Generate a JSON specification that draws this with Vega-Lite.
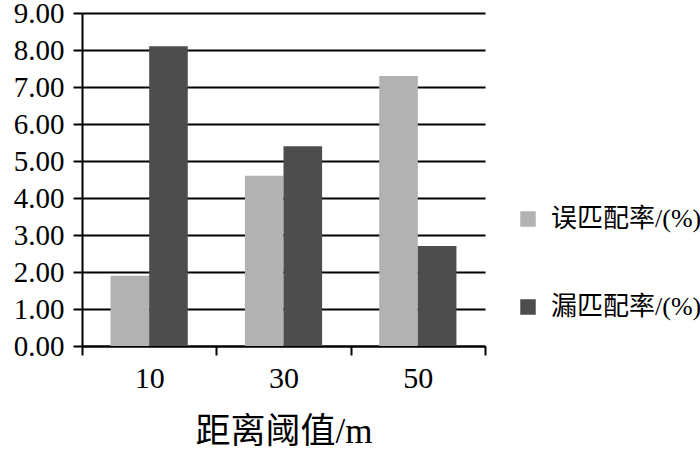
{
  "$schema": "https://vega.github.io/schema/vega-lite/v6.json",
  "autosize": "none",
  "width": 403,
  "height": 333,
  "padding": {"left": 82, "top": 13, "right": 215, "bottom": 103},
  "background": "white",
  "data": {
    "values": [
      {"dist": "10", "series": "误匹配率/(%)", "value": 1.9},
      {"dist": "10", "series": "漏匹配率/(%)", "value": 8.1},
      {"dist": "30", "series": "误匹配率/(%)", "value": 4.6},
      {"dist": "30", "series": "漏匹配率/(%)", "value": 5.4},
      {"dist": "50", "series": "误匹配率/(%)", "value": 7.3},
      {"dist": "50", "series": "漏匹配率/(%)", "value": 2.7}
    ]
  },
  "mark": {"type": "bar"},
  "encoding": {
    "x": {
      "field": "dist", "type": "ordinal", "sort": ["10", "30", "50"],
      "scale": {"paddingInner": 0, "paddingOuter": 0},
      "axis": {
        "title": "距离阈值/m",
        "titleFont": "Liberation Serif, Noto Sans CJK SC",
        "titleFontSize": 35, "titleFontWeight": "normal", "titleColor": "black",
        "titlePadding": 21,
        "labelFont": "Liberation Serif", "labelFontSize": 30, "labelColor": "black",
        "labelAngle": 0, "labelPadding": 8,
        "tickBand": "extent", "tickSize": 9, "tickWidth": 2, "tickColor": "black",
        "domainColor": "black", "domainWidth": 2, "grid": false
      }
    },
    "xOffset": {
      "field": "series", "type": "nominal", "sort": ["误匹配率/(%)", "漏匹配率/(%)"],
      "scale": {"paddingInner": 0, "paddingOuter": 0.74}
    },
    "y": {
      "field": "value", "type": "quantitative",
      "scale": {"domain": [0, 9], "nice": false},
      "axis": {
        "title": null, "values": [0,1,2,3,4,5,6,7,8,9], "format": ".2f",
        "labelFont": "Liberation Serif", "labelFontSize": 29, "labelColor": "black",
        "labelPadding": 9,
        "tickSize": 9, "tickWidth": 2, "tickColor": "black",
        "domainColor": "black", "domainWidth": 2,
        "grid": true, "gridColor": "black", "gridWidth": 2, "gridOpacity": 1
      }
    },
    "color": {
      "field": "series", "type": "nominal", "sort": ["误匹配率/(%)", "漏匹配率/(%)"],
      "scale": {"domain": ["误匹配率/(%)", "漏匹配率/(%)"], "range": ["#b2b2b2", "#4d4d4d"]},
      "legend": {
        "title": null, "orient": "none", "legendX": 433, "legendY": 193,
        "symbolType": "square", "symbolSize": 240, "symbolStrokeWidth": 0,
        "labelFont": "Liberation Serif, Noto Sans CJK SC", "labelFontSize": 26,
        "labelColor": "black", "labelOffset": 10, "rowPadding": 62, "labelLimit": 300
      }
    }
  },
  "config": {"view": {"stroke": null}}
}
